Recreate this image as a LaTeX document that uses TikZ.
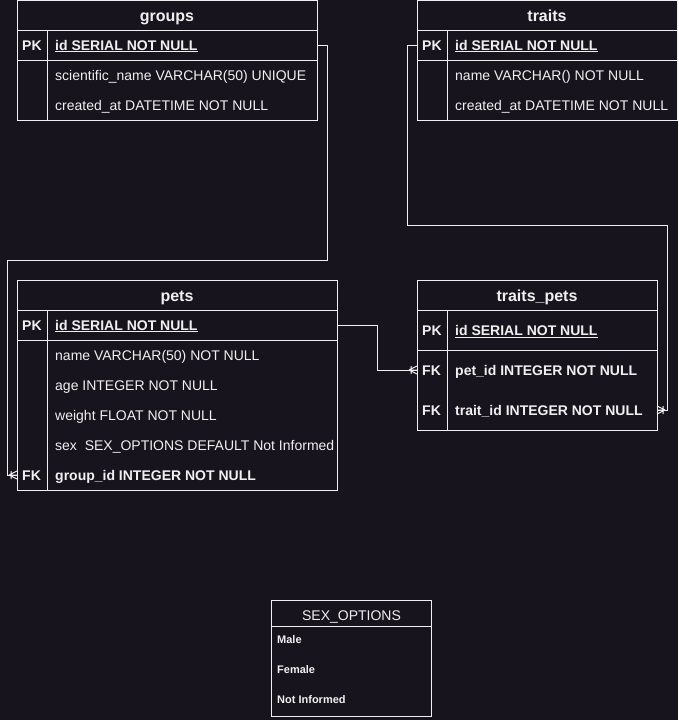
\documentclass[tikz,border=0pt]{standalone}
\usepackage{fontspec}
\setmainfont{Liberation Sans}
\definecolor{bg}{HTML}{18141D}
\definecolor{fg}{HTML}{F0F0F0}
\newcommand\myul[1]{\setbox0\hbox{#1}\rlap{\rule[-2pt]{\wd0}{1pt}}\box0}
\begin{document}
\begin{tikzpicture}[x=1pt,y=-1pt,
  ln/.style={draw=fg, line width=1pt},
  tbox/.style={draw=fg, line width=1pt, fill=bg, anchor=north west, inner sep=0pt, outer sep=0pt},
  rowbox/.style={anchor=north west, inner sep=0pt, outer sep=0pt},
  hdr/.style={anchor=base, inner sep=0pt, text=fg, font=\fontsize{16}{19}\selectfont\bfseries},
  hdrn/.style={anchor=base, inner sep=0pt, text=fg, font=\fontsize{14}{17}\selectfont},
  key/.style={anchor=base west, inner sep=0pt, text=fg, font=\fontsize{14}{17}\selectfont\bfseries},
  fld/.style={anchor=base west, inner sep=0pt, text=fg, font=\fontsize{14}{17}\selectfont},
  opt/.style={anchor=base west, inner sep=0pt, text=fg, font=\fontsize{11}{13}\selectfont\bfseries},
  crow/.pic={\draw[ln] (-8,0) -- (0,-4) (-8,0) -- (0,0) (-8,0) -- (0,4) (-6,-4) -- (-6,4);}
]
\fill[bg] (0,0) rectangle (678,720);
\useasboundingbox (0,0) rectangle (678,720);

% ---------- groups ----------
\node[tbox, minimum width=300pt, minimum height=120pt] (groups) at (17,0) {};
\node[rowbox, minimum width=300pt, minimum height=30pt] (gPK) at (17,30) {};
\draw[ln] (17,30) -- (317,30) (17,60) -- (317,60) (47,30) -- (47,120);
\node[hdr] (gH) at (167,21) {groups};
\node[key] (gK) at (22,50) {PK};
\node[key] (g1) at (55,50) {\myul{id SERIAL NOT NULL}};
\node[fld] (g2) at (55,80) {scientific\_name VARCHAR(50) UNIQUE};
\node[fld] (g3) at (55,110) {created\_at DATETIME NOT NULL};

% ---------- traits ----------
\node[tbox, minimum width=260pt, minimum height=120pt] (traits) at (417,0) {};
\node[rowbox, minimum width=260pt, minimum height=30pt] (trPK) at (417,30) {};
\draw[ln] (417,30) -- (677,30) (417,60) -- (677,60) (447,30) -- (447,120);
\node[hdr] (trH) at (547,21) {traits};
\node[key] (trK) at (422,50) {PK};
\node[key] (tr1) at (455,50) {\myul{id SERIAL NOT NULL}};
\node[fld] (tr2) at (455,80) {name VARCHAR() NOT NULL};
\node[fld] (tr3) at (455,110) {created\_at DATETIME NOT NULL};

% ---------- pets ----------
\node[tbox, minimum width=320pt, minimum height=210pt] (pets) at (17,280) {};
\node[rowbox, minimum width=320pt, minimum height=30pt] (pPK) at (17,310) {};
\node[rowbox, minimum width=320pt, minimum height=30pt] (pFK) at (17,460) {};
\draw[ln] (17,310) -- (337,310) (17,340) -- (337,340) (47,310) -- (47,490);
\node[hdr] (pH) at (177,301) {pets};
\node[key] (pK) at (22,330) {PK};
\node[key] (p1) at (55,330) {\myul{id SERIAL NOT NULL}};
\node[fld] (p2) at (55,360) {name VARCHAR(50) NOT NULL};
\node[fld] (p3) at (55,390) {age INTEGER NOT NULL};
\node[fld] (p4) at (55,420) {weight FLOAT NOT NULL};
\node[fld] (p5) at (55,450) {sex\ \ SEX\_OPTIONS DEFAULT Not Informed};
\node[key] (pF) at (22,480) {FK};
\node[key] (p6) at (55,480) {group\_id INTEGER NOT NULL};

% ---------- traits_pets ----------
\node[tbox, minimum width=240pt, minimum height=150pt] (tp) at (417,280) {};
\node[rowbox, minimum width=240pt, minimum height=40pt] (tpP) at (417,350) {};
\node[rowbox, minimum width=240pt, minimum height=40pt] (tpT) at (417,390) {};
\draw[ln] (417,310) -- (657,310) (417,350) -- (657,350) (447,310) -- (447,430);
\node[hdr] (tpH) at (537,301) {traits\_pets};
\node[key] (tpK) at (422,335.5) {PK};
\node[key] (tp1) at (455,335.5) {\myul{id SERIAL NOT NULL}};
\node[key] (tpF1) at (422,375) {FK};
\node[key] (tp2) at (455,375) {pet\_id INTEGER NOT NULL};
\node[key] (tpF2) at (422,415) {FK};
\node[key] (tp3) at (455,415) {trait\_id INTEGER NOT NULL};

% ---------- SEX_OPTIONS ----------
\node[tbox, minimum width=160pt, minimum height=116pt] (sex) at (271.5,600) {};
\draw[ln] (271.5,626) -- (431.5,626);
\node[hdrn] (sH) at (351.5,620) {SEX\_OPTIONS};
\node[opt] (s1) at (277,643) {Male};
\node[opt] (s2) at (277,673) {Female};
\node[opt] (s3) at (277,703) {Not Informed};

% ---------- connectors ----------
\draw[ln] (gPK.east) -- (327,45) -- (327,260) -- (7,260) -- (7,475) -- (pFK.west);
\pic at (pFK.west) {crow};
\draw[ln] (trPK.west) -- (407,45) -- (407,225) -- (667,225) -- (667,410) -- (tpT.east);
\pic[rotate=180] at (tpT.east) {crow};
\draw[ln] (pPK.east) -- (377,325) -- (377,370) -- (tpP.west);
\pic at (tpP.west) {crow};
\end{tikzpicture}
\end{document}
